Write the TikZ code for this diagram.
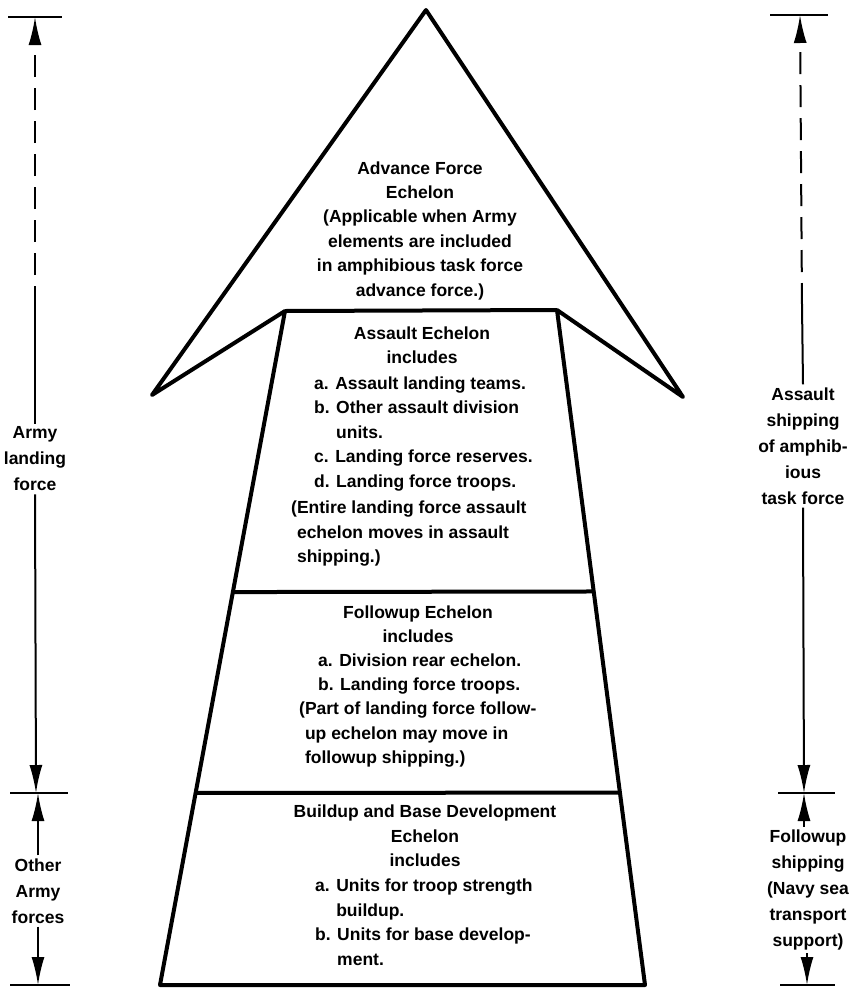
\documentclass[tikz,border=0pt]{standalone}
\usepackage{fontspec}
\setmainfont{Liberation Sans}
\usetikzlibrary{arrows.meta,calc}

\tikzset{
  echtext/.style={align=center, inner sep=0pt, font=\bfseries\fontsize{17.5}{24.5}\selectfont},
  listtext/.style={align=left, anchor=west, inner sep=0pt, font=\bfseries\fontsize{17.5}{24.5}\selectfont},
  sidetext/.style={align=center, inner sep=3pt, font=\bfseries\fontsize{17.5}{26}\selectfont},
  dimline/.style={line width=2pt},
  dimarrow/.style={line width=2pt, -{Latex[length=28pt,width=13pt]}},
  dimdash/.style={dimarrow, dash pattern=on 22pt off 11pt},
  tickline/.style={line width=2.8pt},
  outline/.style={line width=4pt, line join=round}
}

\begin{document}
\begin{tikzpicture}[x=1pt,y=-1pt]
\useasboundingbox (0,0) rectangle (853,991);

% the arrow
\coordinate (apex) at (426,10);
\coordinate (rbarb) at (683,397);
\coordinate (rsh) at (557,310);
\coordinate (rfoot) at (645,985);
\coordinate (lfoot) at (160,985);
\coordinate (lsh) at (285,311);
\coordinate (lbarb) at (152,395);
\draw [outline] (apex) -- (rbarb) -- (rsh) -- (rfoot) -- (lfoot) -- (lsh) -- (lbarb) -- cycle;
\draw [outline] (lsh) -- (rsh);
\draw [outline] ($(lsh)!0.417!(lfoot)$) -- ($(rsh)!0.417!(rfoot)$);
\draw [outline] ($(lsh)!0.715!(lfoot)$) -- ($(rsh)!0.715!(rfoot)$);

% advance force
\node [echtext] (advhead) at (420,180) {Advance Force\\Echelon};
\node [echtext] (advnote) at (420,255) {(Applicable when Army\\elements are included\\in amphibious task force\\advance force.)};

% assault
\node [echtext] (asshead) at (422,345) {Assault Echelon\\includes};
\node [listtext] (asslist) at (314,434) {a. Assault landing teams.\\b. Other assault division\\\phantom{b. }units.\\c. Landing force reserves.\\d. Landing force troops.};
\node [listtext] (assnote) at (291,534) {(Entire landing force assault\\\phantom{(}echelon moves in assault\\\phantom{(}shipping.)};

% followup
\node [echtext] (fuphead) at (418,624) {Followup Echelon\\includes};
\node [listtext] (fuplist) at (318,674) {a. Division rear echelon.\\b. Landing force troops.};
\node [listtext] (fupnote) at (299,735) {(Part of landing force follow-\\\phantom{(}up echelon may move in\\\phantom{(}followup shipping.)};

% buildup
\node [echtext] (bldhead) at (425,836) {Buildup and Base Development\\Echelon\\includes};
\node [listtext] (bldlist) at (315,922) {a. Units for troop strength\\\phantom{a. }buildup.\\b. Units for base develop-\\\phantom{b. }ment.};

% left dimensions
\coordinate (ltop) at (35,17);
\coordinate (ldash) at (35,308);
\coordinate (lmid) at (36,793);
\coordinate (lbot) at (37,985);
\draw [tickline] (8,17) -- (62,17);
\draw [tickline] (10,793) -- (68,793);
\draw [tickline] (10,985) -- (70,985);
\node [sidetext] (armylbl) at (35,459) {Army\\landing\\force};
\node [sidetext] (otherlbl) at (38,891) {Other\\Army\\forces};
\draw [dimdash] (ldash) -- (ltop);
\draw [dimline] (armylbl.north) -- (ldash);
\draw [dimarrow] (armylbl.south) -- (lmid);
\draw [dimarrow] (otherlbl.north) -- (otherlbl.north |- lmid);
\draw [dimarrow] (otherlbl.south) -- (otherlbl.south |- lbot);

% right dimensions
\coordinate (rtop) at (800,15);
\coordinate (rdash) at (802,305);
\coordinate (rmid) at (804,793);
\coordinate (rbot) at (807,985);
\draw [tickline] (770,15) -- (828,15);
\draw [tickline] (778,793) -- (835,793);
\draw [tickline] (780,985) -- (835,985);
\node [sidetext] (shiplbl) at (803,446) {Assault\\shipping\\of amphib-\\ious\\task force};
\node [sidetext] (fuplbl) at (808,890) {Followup\\shipping\\(Navy sea\\transport\\support)};
\draw [dimdash] (rdash) -- (rtop);
\draw [dimline] (shiplbl.north) -- (rdash);
\draw [dimarrow] (shiplbl.south) -- (rmid);
\draw [dimarrow] (fuplbl.north -| rmid) -- (rmid);
\draw [dimarrow] (fuplbl.south -| rbot) -- (rbot);

\end{tikzpicture}
\end{document}
